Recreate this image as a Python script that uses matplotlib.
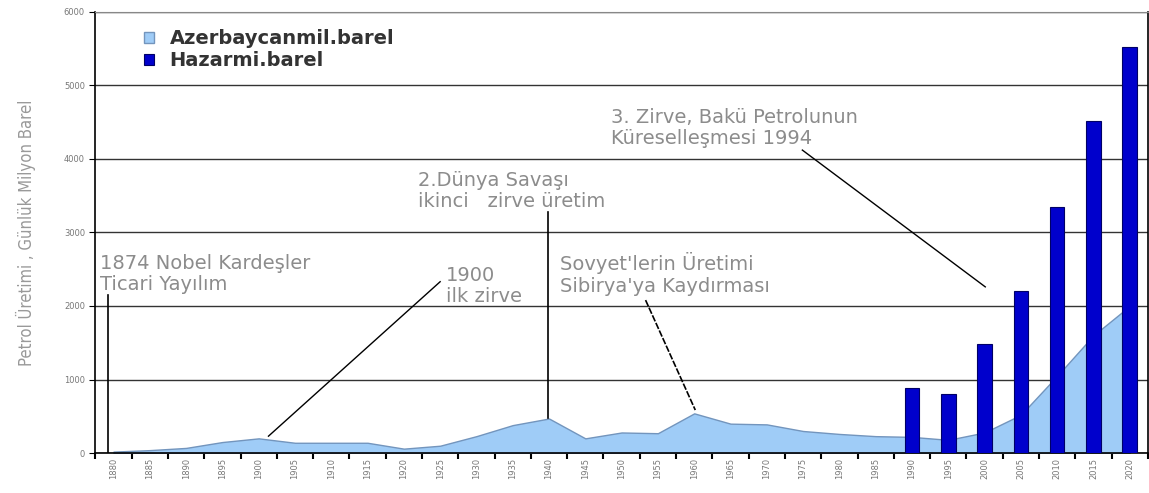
import matplotlib.pyplot as plt
import numpy as np

# Veriler
years = list(range(1880, 2021, 5))
azerbaycan = [20, 40, 70, 150, 200, 140, 140, 140, 60, 100, 230, 380, 470,
              200, 280, 270, 540, 400, 390, 300, 260, 230, 220, 180, 280,
              520, 1050, 1600, 2000]
hazar_years = [1990, 1995, 2000, 2005, 2010, 2015, 2020]
hazar = [880, 800, 1480, 2200, 3340, 4520, 5520]

x = np.arange(len(years))
hx = [years.index(y) for y in hazar_years]

fig = plt.figure(figsize=(11.49, 4.93), dpi=100)
ax = fig.add_axes([0.083, 0.081, 0.916, 0.895])

# Alan ve çubuklar
ax.fill_between(x, azerbaycan, color='#9fccf7', edgecolor='#7395bd',
                linewidth=1, zorder=2, label='Azerbaycanmil.barel')
ax.bar(hx, hazar, width=0.4, color='#0000cc', edgecolor='#000066',
       linewidth=0.8, zorder=3, label='Hazarmi.barel')

ax.set_xlim(-0.5, len(years) - 0.5)
ax.set_ylim(0, 6000)
ax.set_yticks(range(0, 6001, 1000))
ax.yaxis.grid(True, color='#333333', linewidth=1)
ax.set_axisbelow(True)
ax.set_xticks(x)
ax.set_xticklabels(years, rotation=90, fontsize=6, color='#777777')
ax.tick_params(axis='y', labelsize=6, labelcolor='#777777', length=4)
ax.set_xticks(np.arange(-0.5, len(years), 1), minor=True)
ax.tick_params(axis='x', which='major', length=0)
ax.tick_params(axis='x', which='minor', length=4, width=1.5)
ax.spines['top'].set_color('#888888')
for s in ['left', 'bottom', 'right']:
    ax.spines[s].set_color('black')
    ax.spines[s].set_linewidth(1.2)

ax.set_ylabel('Petrol Üretimi , Günlük Milyon Barel', fontsize=12,
              color='#999999', fontstretch='condensed', labelpad=20)

leg = ax.legend(loc='upper left', bbox_to_anchor=(0.03, 1.0), frameon=False,
                prop={'weight': 'bold', 'size': 14}, handlelength=0.5,
                handleheight=0.5, labelspacing=0.15, handletextpad=0.8)
for t in leg.get_texts():
    t.set_color('#333333')

# Açıklamalar
tc = '#8c8c8c'
fs = 14
ls = 1.15
ax.text(-0.36, 2435, '1874 Nobel Kardeşler\nTicari Yayılım', fontsize=fs,
        color=tc, va='center', linespacing=ls)
ax.plot([-0.15, -0.15], [0, 2150], color='black', lw=1.2)

ax.text(9.15, 2270, '1900\nilk zirve', fontsize=fs, color=tc, va='center',
        linespacing=ls)
ax.plot([9.0, 4.27], [2330, 230], color='black', lw=1)

ax.text(8.4, 3565, '2.Dünya Savaşı\nikinci   zirve üretim', fontsize=fs,
        color=tc, va='center', linespacing=ls)
ax.plot([11.98, 11.98], [3280, 475], color='black', lw=1.2)

ax.text(12.31, 2435, "Sovyet'lerin Üretimi\nSibirya'ya Kaydırması",
        fontsize=fs, color=tc, va='center', linespacing=ls)
ax.plot([14.66, 16.03], [2080, 585], color='black', lw=1.2, ls=(0, (4, 1)))

ax.text(13.7, 4420, '3. Zirve, Bakü Petrolunun\nKüreselleşmesi 1994',
        fontsize=fs, color=tc, va='center', linespacing=ls)
ax.plot([18.98, 24.02], [4120, 2260], color='black', lw=1)

fig.savefig('out.png', dpi=100)
